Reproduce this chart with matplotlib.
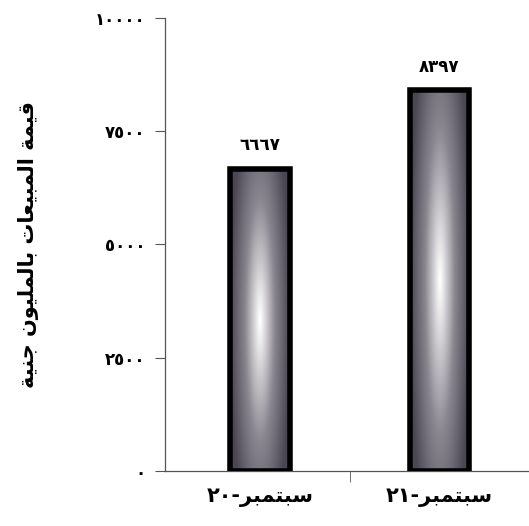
import numpy as np
import matplotlib
matplotlib.use("Agg")
import matplotlib.pyplot as plt
from matplotlib.colors import LinearSegmentedColormap

categories = ["سبتمبر-٢٠", "سبتمبر-٢١"]
sales = [6667, 8397]
y_ticks = [0, 2500, 5000, 7500, 10000]
y_label = "قيمة المبيعات بالمليون جنية"

# presentation forms: isolated, final, initial, medial
FORMS = {
    "ا": ("\uFE8D", "\uFE8E", None, None),
    "ب": ("\uFE8F", "\uFE90", "\uFE91", "\uFE92"),
    "ة": ("\uFE93", "\uFE94", None, None),
    "ت": ("\uFE95", "\uFE96", "\uFE97", "\uFE98"),
    "ج": ("\uFE9D", "\uFE9E", "\uFE9F", "\uFEA0"),
    "ر": ("\uFEAD", "\uFEAE", None, None),
    "س": ("\uFEB1", "\uFEB2", "\uFEB3", "\uFEB4"),
    "ع": ("\uFEC9", "\uFECA", "\uFECB", "\uFECC"),
    "ق": ("\uFED5", "\uFED6", "\uFED7", "\uFED8"),
    "ل": ("\uFEDD", "\uFEDE", "\uFEDF", "\uFEE0"),
    "م": ("\uFEE1", "\uFEE2", "\uFEE3", "\uFEE4"),
    "ن": ("\uFEE5", "\uFEE6", "\uFEE7", "\uFEE8"),
    "ه": ("\uFEE9", "\uFEEA", "\uFEEB", "\uFEEC"),
    "و": ("\uFEED", "\uFEEE", None, None),
    "ي": ("\uFEF1", "\uFEF2", "\uFEF3", "\uFEF4"),
}


def shape_word(word):
    # matplotlib has no arabic shaping/bidi, so pick the glyph forms and reverse by hand
    out = []
    for i, ch in enumerate(word):
        if ch not in FORMS:
            out.append(ch)
            continue
        iso, fin, ini, med = FORMS[ch]
        prev = word[i - 1] if i > 0 else None
        nxt = word[i + 1] if i + 1 < len(word) else None
        joins_prev = prev in FORMS and FORMS[prev][2] is not None
        joins_next = nxt in FORMS and ini is not None
        if joins_prev and joins_next:
            out.append(med)
        elif joins_prev:
            out.append(fin)
        elif joins_next:
            out.append(ini)
        else:
            out.append(iso)
    return "".join(reversed(out))


def rtl(text):
    return " ".join(shape_word(w) for w in reversed(text.split(" ")))


def cat_label(text):
    word, year = text.split("-")
    return year + "-" + rtl(word)


def ar_digits(n):
    return str(n).translate(str.maketrans("0123456789", "٠١٢٣٤٥٦٧٨٩"))


plt.rcParams["font.family"] = ["DejaVu Sans"]

fig = plt.figure(figsize=(5.29, 5.26), dpi=100)
ax = fig.add_axes([0.312, 0.105, 0.688, 0.861])

x = np.arange(len(categories))
bars = ax.bar(x, sales, width=0.33, facecolor="none", edgecolor="black", linewidth=4, zorder=3)

cmap = LinearSegmentedColormap.from_list("barshade", ["#4b4752", "#8a8690", "#ffffff"])
gx = np.linspace(-1, 1, 80)
gy = np.linspace(-1, 1, 200)
GX, GY = np.meshgrid(gx, gy)
shade = np.clip(1 - np.sqrt(GX ** 2 + (GY / 1.6) ** 2), 0, 1)
for b in bars:
    im = ax.imshow(shade, cmap=cmap, aspect="auto", zorder=2, interpolation="bilinear",
                   extent=[b.get_x(), b.get_x() + b.get_width(), 0, b.get_height()])
    im.set_clip_path(b)

for xi, v in zip(x, sales):
    ax.text(xi, v + 330, ar_digits(v), ha="center", va="bottom", fontsize=12, fontweight="bold")

ax.set_xlim(-0.53, 1.5)
ax.set_ylim(0, 10000)
ax.set_yticks(y_ticks)
ax.set_yticklabels([ar_digits(t) for t in y_ticks], fontsize=12, fontweight="bold")
ax.set_xticks(x)
ax.set_xticklabels([cat_label(c) for c in categories], fontsize=15, fontweight="bold")
ax.tick_params(axis="x", length=0, pad=12)
ax.set_xticks([0.5], minor=True)
ax.tick_params(axis="x", which="minor", length=8, color="#555555")
ax.tick_params(axis="y", length=7, color="#555555", pad=7)

ax.set_ylabel(rtl(y_label), fontsize=15, fontweight="bold", labelpad=40)

for s in ["top", "right"]:
    ax.spines[s].set_visible(False)
for s in ["left", "bottom"]:
    ax.spines[s].set_color("#555555")
    ax.spines[s].set_linewidth(0.9)

fig.savefig("out.png", dpi=100)
